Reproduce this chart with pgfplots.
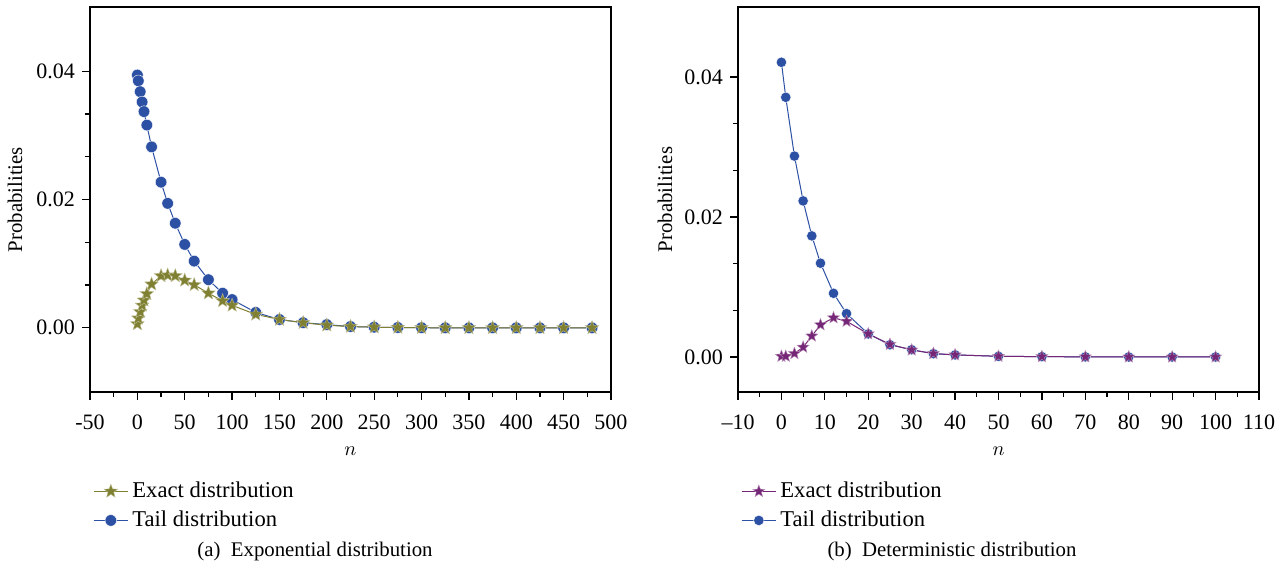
\documentclass[border=0pt]{standalone}
\usepackage{pgfplots}
\pgfplotsset{compat=1.18}
\usepackage{fontspec}
\setmainfont{Liberation Serif}
\definecolor{blueC}{RGB}{44,80,164}
\definecolor{oliveC}{RGB}{128,128,50}
\definecolor{purpC}{RGB}{118,38,118}
\pgfdeclareplotmark{fstar}{%
  \pgfpathmoveto{\pgfqpointpolar{90}{\pgfplotmarksize}}%
  \pgfpathlineto{\pgfqpointpolar{126}{0.42\pgfplotmarksize}}%
  \pgfpathlineto{\pgfqpointpolar{162}{\pgfplotmarksize}}%
  \pgfpathlineto{\pgfqpointpolar{198}{0.42\pgfplotmarksize}}%
  \pgfpathlineto{\pgfqpointpolar{234}{\pgfplotmarksize}}%
  \pgfpathlineto{\pgfqpointpolar{270}{0.42\pgfplotmarksize}}%
  \pgfpathlineto{\pgfqpointpolar{306}{\pgfplotmarksize}}%
  \pgfpathlineto{\pgfqpointpolar{342}{0.42\pgfplotmarksize}}%
  \pgfpathlineto{\pgfqpointpolar{18}{\pgfplotmarksize}}%
  \pgfpathlineto{\pgfqpointpolar{54}{0.42\pgfplotmarksize}}%
  \pgfpathclose
  \pgfusepathqfillstroke}
\begin{document}
\begin{tikzpicture}
\path[use as bounding box] (0,0) rectangle (643.5pt,-283.5pt);
\pgfplotsset{
  myax/.style={
    scale only axis, width=260.5pt, height=192.5pt,
    anchor=north west,
    axis line style={line width=0.7pt},
    tick align=outside, tick pos=left,
    major tick length=4pt, minor tick length=2.5pt,
    every tick/.style={black, line width=0.6pt},
    minor y tick num=2, minor x tick num=1,
    /pgf/number format/assume math mode=true,
    yticklabel style={/pgf/number format/.cd, fixed, fixed zerofill, precision=2},
    xticklabel style={yshift=-4pt},
    ytick={0,0.02,0.04},
    scaled y ticks=false,
    tick label style={font=\fontsize{11}{13}\selectfont},
    label style={font=\fontsize{10.4}{12}\selectfont},
    xlabel={$n$},
    ylabel={Probabilities},
    xlabel style={at={(axis description cs:0.5,-0.153)}, anchor=center},
    ylabel style={at={(axis description cs:-0.144,0.5)}, anchor=center, rotate=0},
    legend style={draw=none, fill=none, font=\fontsize{11.3}{13}\selectfont,
      at={(-0.006,-0.212)}, anchor=north west, row sep=1.2pt},
    legend cell align=left,
    reverse legend,
  }
}
\begin{axis}[myax, at={(45pt,-3.5pt)},
  xmin=-50, xmax=500, ymin=-0.01, ymax=0.05,
  xtick={-50,0,50,...,500}]
\addplot[color=blueC, line width=0.5pt, mark=*, mark size=2.9pt,
  mark options={fill=blueC, draw=white, line width=0.2pt}] coordinates {
(0,0.0394)(1,0.0385)(3,0.0368)(5,0.0352)(7,0.0337)(10,0.0316)(15,0.0282)
(25,0.0227)(32,0.0194)(40,0.0163)(50,0.0130)(60,0.0104)(75,0.0075)(90,0.0054)
(100,0.0044)(125,0.0024)(150,0.0013)(175,0.0008)(200,0.0005)(225,0.0002)
(250,0.0001)(275,0.00005)(300,0.00002)(325,0)(350,0)(375,0)(400,0)(425,0)(450,0)(480,0)};
\addlegendentry{Tail distribution}
\addplot[color=oliveC, line width=0.5pt, mark=fstar, mark size=3.6pt,
  mark options={fill=oliveC, draw=oliveC!50!white, line width=0.2pt}] coordinates {
(0,0.0006)(1,0.0015)(3,0.0025)(5,0.0035)(7,0.0043)(10,0.0053)(15,0.0068)
(25,0.0081)(32,0.0082)(40,0.0081)(50,0.0074)(60,0.0067)(75,0.0054)(90,0.0042)
(100,0.0035)(125,0.0021)(150,0.0013)(175,0.0008)(200,0.0004)(225,0.0002)
(250,0.0001)(275,0.00005)(300,0.00002)(325,0)(350,0)(375,0)(400,0)(425,0)(450,0)(480,0)};
\addlegendentry{Exact distribution}
\end{axis}
\begin{axis}[myax, at={(369pt,-3.5pt)},
  xmin=-10, xmax=110, ymin=-0.005, ymax=0.05,
  xtick={-10,0,10,...,110},
  xticklabels={–10,0,10,20,30,40,50,60,70,80,90,100,110},
  ylabel style={at={(axis description cs:-0.140,0.5)}}]
\addplot[color=blueC, line width=0.5pt, mark=*, mark size=2.6pt,
  mark options={fill=blueC, draw=white, line width=0.2pt}] coordinates {
(0,0.0421)(1,0.0371)(3,0.0287)(5,0.0223)(7,0.0173)(9,0.0134)(12,0.0091)
(15,0.0062)(20,0.0033)(25,0.00175)(30,0.00104)(35,0.00047)(40,0.0003)
(50,0.0001)(60,0.00005)(70,0.00002)(80,0)(90,0)(100,0)};
\addlegendentry{Tail distribution}
\addplot[color=purpC, line width=0.5pt, mark=fstar, mark size=3.2pt,
  mark options={fill=purpC, draw=purpC!50!white, line width=0.2pt}] coordinates {
(0,0.0001)(1,0.0001)(3,0.0005)(5,0.0014)(7,0.0030)(9,0.0046)(12,0.0056)
(15,0.0051)(20,0.0033)(25,0.0018)(30,0.0010)(35,0.0005)(40,0.0003)
(50,0.0001)(60,0.00005)(70,0.00002)(80,0)(90,0)(100,0)};
\addlegendentry{Exact distribution}
\end{axis}
\node[font=\fontsize{10.4}{12}\selectfont] at (157.5pt,-275.5pt) {(a)\enspace Exponential distribution};
\node[font=\fontsize{10.4}{12}\selectfont] at (476pt,-275.5pt) {(b)\enspace Deterministic distribution};
\end{tikzpicture}
\end{document}
